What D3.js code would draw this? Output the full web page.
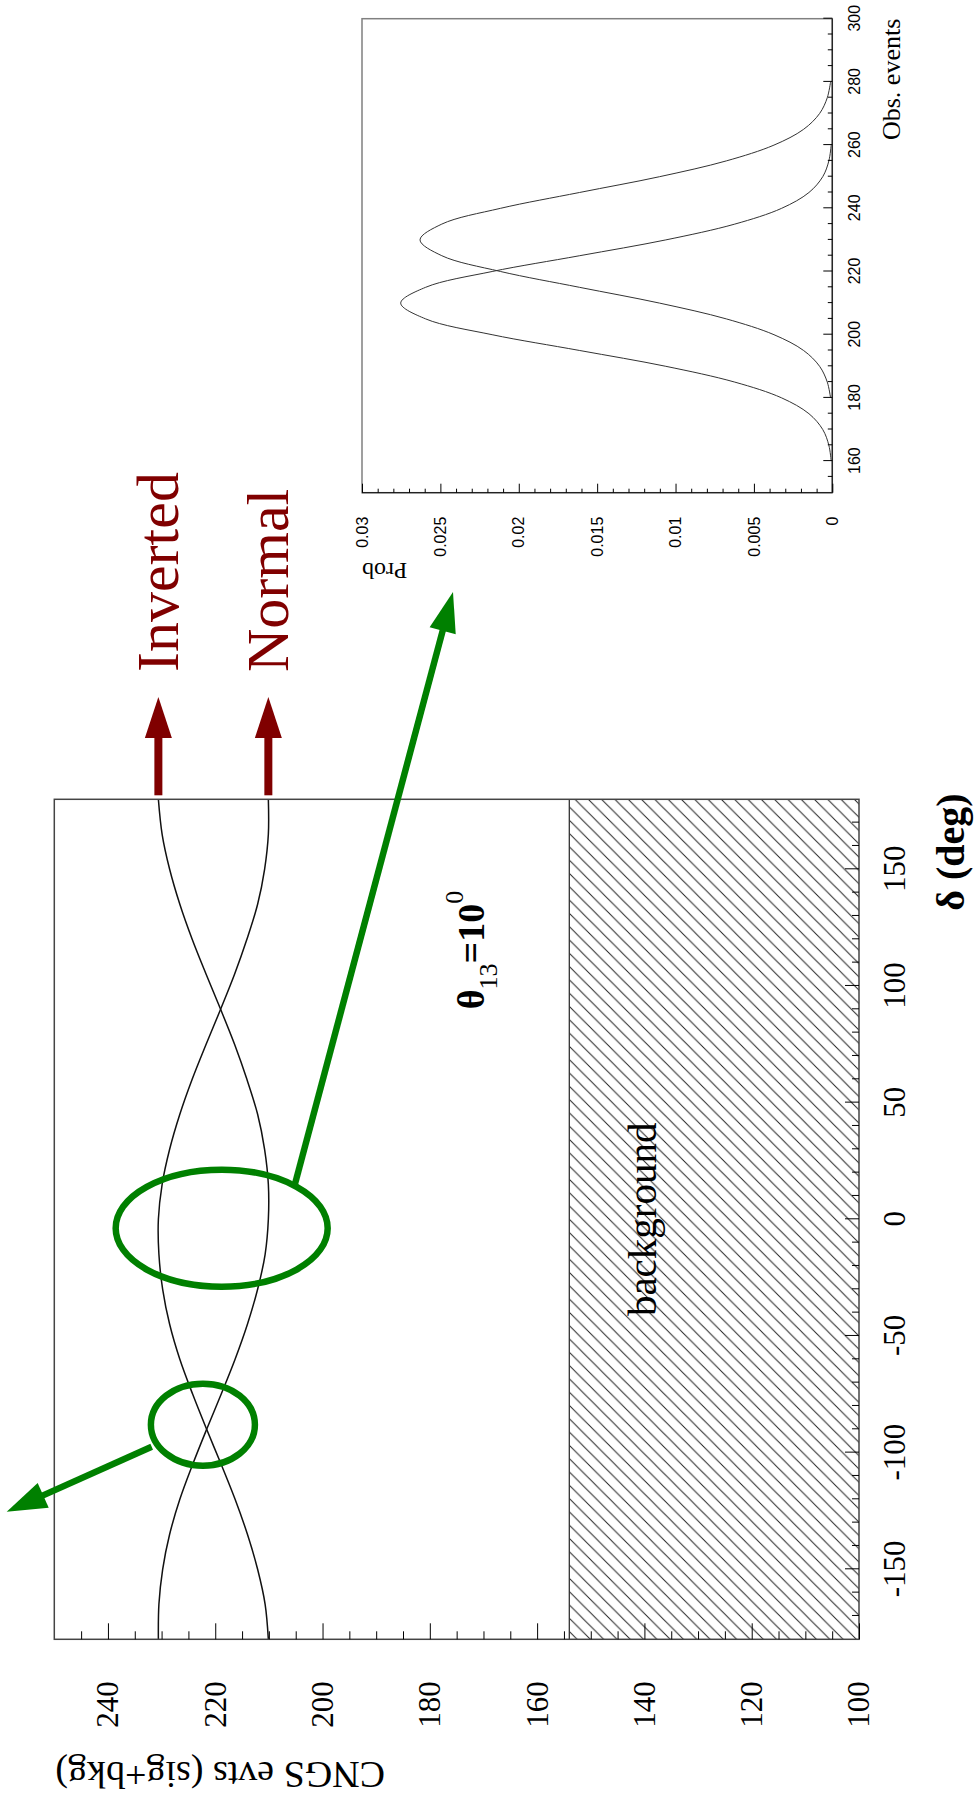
<!DOCTYPE html>
<html>
<head>
<meta charset="utf-8">
<script src="https://cdn.jsdelivr.net/npm/d3@7"></script>
<style>
  html, body { margin: 0; padding: 0; background: #fff; }
  svg { display: block; }
</style>
</head>
<body>
<script>
// Expected CNGS event counts (signal + background) versus the CP phase delta, theta13 = 10 deg
const deltaDeg = [-180,-165,-150,-135,-120,-105,-90,-75,-60,-45,-30,-15,0,15,30,45,60,75,90,105,120,135,150,165,180];
const eventsInverted = [230.6,230.5,229.8,228.5,226.6,224.2,221.6,218.9,216.3,214.0,212.1,210.7,210.1,210.1,210.8,212.1,214.1,216.4,219.0,221.7,224.3,226.6,228.5,229.9,230.6];
const eventsNormal   = [210.1,210.7,212.1,214.0,216.3,218.9,221.6,224.2,226.6,228.5,229.8,230.5,230.6,229.9,228.5,226.6,224.3,221.7,219.0,216.4,214.1,212.1,210.8,210.1,210.1];
const backgroundLevel = 154;

// Probability of the observed number of events for the two hierarchies
const obsEvents = [160,165,170,175,180,185,190,195,200,205,210,215,220,225,230,235,240,245,250,255,260,265,270,275,280];
const probNormal = [0.00007,0.00022,0.00061,0.00149,0.00323,0.00622,0.01062,0.01611,0.02170,0.02594,0.02753,0.02594,0.02170,0.01611,0.01062,0.00622,0.00323,0.00149,0.00061,0.00022,0.00007,null,null,null,null];
const probInverted = [null,null,null,null,0.00011,0.00032,0.00081,0.00183,0.00372,0.00676,0.01102,0.01613,0.02116,0.02491,0.02630,0.02491,0.02116,0.01613,0.01102,0.00676,0.00372,0.00183,0.00081,0.00032,0.00011];

// Axis ticks
const deltaTicks = [-150,-100,-50,0,50,100,150];
const eventTicks = [100,120,140,160,180,200,220,240];
const obsTicks = [160,180,200,220,240,260,280,300];
const probTicks = [0,0.005,0.01,0.015,0.02,0.025,0.03];
const probTickLabels = ["0","0.005","0.01","0.015","0.02","0.025","0.03"];

const W = 976, H = 1807;
const SERIF = "'Liberation Serif','Times New Roman',serif";
const SANS = "'Liberation Sans',Arial,sans-serif";
const MAROON = "#800000", GREEN = "#008000";

const svg = d3.select("body").append("svg").attr("width", W).attr("height", H);

// The figure is laid out landscape (H wide, W tall) and turned a quarter turn
const g = svg.append("g").attr("transform", `translate(0,${H}) rotate(-90)`);

const defs = svg.append("defs");
const hatch = defs.append("pattern").attr("id", "hatch")
  .attr("patternUnits", "userSpaceOnUse").attr("width", 13.3).attr("height", 13.3);
hatch.append("path").attr("d", "M-2,2 L2,-2 M0,13.3 L13.3,0 M11.3,15.3 L15.3,11.3")
  .attr("stroke", "#222").attr("stroke-width", 1);

// ---------- main plot ----------
const x = d3.scaleLinear().domain([-180, 180]).range([167.7, 1007.7]);
const y = d3.scaleLinear().domain([100, 250]).range([859, 54.3]);

// background band
g.append("rect")
  .attr("x", x(-180)).attr("y", y(backgroundLevel))
  .attr("width", x(180) - x(-180)).attr("height", y(100) - y(backgroundLevel))
  .attr("fill", "url(#hatch)");
g.append("line")
  .attr("x1", x(-180)).attr("x2", x(180))
  .attr("y1", y(backgroundLevel)).attr("y2", y(backgroundLevel))
  .attr("stroke", "#333").attr("stroke-width", 1.3);

const line = d3.line().x(d => x(d[0])).y(d => y(d[1])).curve(d3.curveCatmullRom);
[eventsInverted, eventsNormal].forEach(series => {
  g.append("path")
    .datum(deltaDeg.map((d, i) => [d, series[i]]))
    .attr("d", line)
    .attr("fill", "none").attr("stroke", "#111").attr("stroke-width", 1.5);
});

g.append("rect")
  .attr("x", x(-180)).attr("y", y(250))
  .attr("width", x(180) - x(-180)).attr("height", y(100) - y(250))
  .attr("fill", "none").attr("stroke", "#444").attr("stroke-width", 1.5);

function styleAxis(sel, family, size) {
  sel.attr("font-family", family).attr("font-size", size).attr("color", "#000");
  sel.select(".domain").remove();
}

// delta axis
const deltaMinor = d3.range(-170, 180, 10).filter(v => v % 50 !== 0);
g.append("g").attr("transform", `translate(0,${y(100)})`)
  .call(d3.axisBottom(x).tickValues(deltaMinor).tickSize(-7).tickFormat(() => ""))
  .call(s => styleAxis(s, SERIF, 31));
g.append("g").attr("transform", `translate(0,${y(100)})`)
  .call(d3.axisBottom(x).tickValues(deltaTicks).tickSize(-14).tickPadding(24).tickFormat(d => String(d)))
  .call(s => styleAxis(s, SERIF, 31));

// event axis
const eventMinor = d3.range(105, 250, 5).filter(v => v % 20 !== 0);
g.append("g").attr("transform", `translate(${x(-180)},0)`)
  .call(d3.axisLeft(y).tickValues(eventMinor).tickSize(-8).tickFormat(() => ""))
  .call(s => styleAxis(s, SERIF, 31));
g.append("g").attr("transform", `translate(${x(-180)},0)`)
  .call(d3.axisLeft(y).tickValues(eventTicks).tickSize(-16).tickPadding(42).tickFormat(d => String(d)))
  .call(s => styleAxis(s, SERIF, 31));

// axis titles
g.append("text")
  .attr("transform", `translate(45,${y(250) + 1}) rotate(-90)`)
  .attr("text-anchor", "end").attr("font-family", SERIF).attr("font-size", 38)
  .text("CNGS evts (sig+bkg)");
g.append("text")
  .attr("x", x(180) + 6).attr("y", 964)
  .attr("text-anchor", "end").attr("font-family", SERIF).attr("font-size", 40).attr("font-weight", "bold")
  .text("δ (deg)");

// in-plot labels
g.append("text")
  .attr("x", x(0)).attr("y", 656)
  .attr("text-anchor", "middle").attr("font-family", SERIF).attr("font-size", 41)
  .text("background");

const th = g.append("text").attr("x", x(90)).attr("y", 484)
  .attr("font-family", SERIF).attr("font-size", 38);
th.append("tspan").attr("font-weight", "bold").text("θ");
th.append("tspan").attr("font-size", 26).attr("dy", 13).text("13");
th.append("tspan").attr("font-weight", "bold").attr("dy", -13).text("=10");
th.append("tspan").attr("font-size", 26).attr("dy", -21).text("0");

// ---------- hierarchy arrows ----------
function arrow(sel, x1, y1, x2, y2, w, hl, hw, color) {
  const dx = x2 - x1, dy = y2 - y1, L = Math.hypot(dx, dy);
  const ux = dx / L, uy = dy / L;
  const bx = x2 - ux * hl, by = y2 - uy * hl;
  sel.append("line")
    .attr("x1", x1).attr("y1", y1).attr("x2", bx + ux * 2).attr("y2", by + uy * 2)
    .attr("stroke", color).attr("stroke-width", w);
  sel.append("path")
    .attr("d", `M${x2},${y2}L${bx - uy * hw / 2},${by + ux * hw / 2}L${bx + uy * hw / 2},${by - ux * hw / 2}Z`)
    .attr("fill", color);
}

const hierarchies = [
  { name: "Inverted", value: eventsInverted[eventsInverted.length - 1] },
  { name: "Normal", value: eventsNormal[eventsNormal.length - 1] }
];
hierarchies.forEach(h => {
  arrow(g, x(180) + 4, y(h.value), 1110, y(h.value), 8, 41, 27, MAROON);
  g.append("text")
    .attr("x", 1135).attr("y", y(h.value) + 20)
    .attr("font-family", SERIF).attr("font-size", 60).attr("fill", MAROON)
    .text(h.name);
});

// ---------- inset: probability of observed events ----------
const xi = d3.scaleLinear().domain([150, 300]).range([1314.3, 1788.3]);
const yi = d3.scaleLinear().domain([0, 0.03]).range([832.3, 362]);

const iline = d3.line()
  .defined(d => d[1] !== null)
  .x(d => xi(d[0])).y(d => yi(d[1]))
  .curve(d3.curveCatmullRom);
[probNormal, probInverted].forEach(series => {
  g.append("path")
    .datum(obsEvents.map((d, i) => [d, series[i]]))
    .attr("d", iline)
    .attr("fill", "none").attr("stroke", "#333").attr("stroke-width", 1);
});

g.append("rect")
  .attr("x", xi(150)).attr("y", yi(0.03))
  .attr("width", xi(300) - xi(150)).attr("height", yi(0) - yi(0.03))
  .attr("fill", "none").attr("stroke", "#808080").attr("stroke-width", 1.5);
g.append("line")
  .attr("x1", xi(150)).attr("x2", xi(300)).attr("y1", yi(0)).attr("y2", yi(0))
  .attr("stroke", "#222").attr("stroke-width", 1.3);
g.append("line")
  .attr("x1", xi(150)).attr("x2", xi(150)).attr("y1", yi(0)).attr("y2", yi(0.03))
  .attr("stroke", "#222").attr("stroke-width", 1.3);

const obsMinor = d3.range(155, 300, 5).filter(v => v % 20 !== 0);
g.append("g").attr("transform", `translate(0,${yi(0)})`)
  .call(d3.axisBottom(xi).tickValues(obsMinor).tickSize(-4.5).tickFormat(() => ""))
  .call(s => styleAxis(s, SANS, 16));
g.append("g").attr("transform", `translate(0,${yi(0)})`)
  .call(d3.axisBottom(xi).tickValues(obsTicks).tickSize(-9).tickPadding(16).tickFormat(d => String(d)))
  .call(s => styleAxis(s, SANS, 16));

const probMinor = d3.range(1, 30).filter(v => v % 5 !== 0).map(v => v / 1000);
g.append("g").attr("transform", `translate(${xi(150)},0)`)
  .call(d3.axisLeft(yi).tickValues(probMinor).tickSize(-4).tickFormat(() => ""))
  .call(s => styleAxis(s, SANS, 16));
g.append("g").attr("transform", `translate(${xi(150)},0)`)
  .call(d3.axisLeft(yi).tickValues(probTicks).tickSize(-9).tickPadding(24)
    .tickFormat((d, i) => probTickLabels[i]))
  .call(s => styleAxis(s, SANS, 16));

g.append("text")
  .attr("x", xi(300)).attr("y", 900)
  .attr("text-anchor", "end").attr("font-family", SERIF).attr("font-size", 26)
  .text("Obs. events");
g.append("text")
  .attr("transform", `translate(1244,${yi(0.03)}) rotate(-90)`)
  .attr("text-anchor", "end").attr("font-family", SERIF).attr("font-size", 24)
  .text("Prob");

// ---------- green call-outs ----------
const callouts = [
  { delta: -88, events: 222.3, rx: 41, ry: 52 },
  { delta: -3.8, events: 218.8, rx: 58.5, ry: 106 }
];
callouts.forEach(c => {
  g.append("ellipse")
    .attr("cx", x(c.delta)).attr("cy", y(c.events))
    .attr("rx", c.rx).attr("ry", c.ry)
    .attr("fill", "none").attr("stroke", GREEN).attr("stroke-width", 6.5);
});
arrow(g, 360.3, 151.7, 295.3, 6.7, 6.5, 40, 27, GREEN);
arrow(g, 622, 294.7, 1215, 453, 6.5, 40, 27, GREEN);
</script>
</body>
</html>
